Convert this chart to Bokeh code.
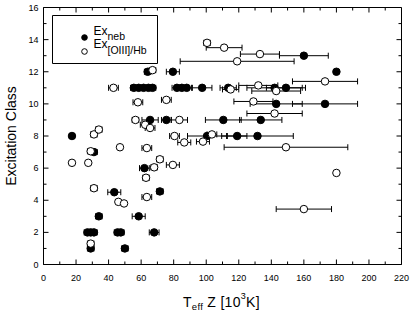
from bokeh.plotting import figure
from bokeh.models import (Range1d, SingleIntervalTicker, Whisker, TeeHead, BoxAnnotation,
                          ColumnDataSource, Label, Legend, LegendItem, Div)
from bokeh.layouts import column
from bokeh.embed import file_html
from bokeh.resources import INLINE

# ---- data ----
neb_x = [17.5, 31, 62, 43.5, 71.5, 34, 58.5, 27, 29, 31, 45.5, 47.5, 68, 29, 50,
         64, 79.5, 160, 180, 55.5, 58.5, 61.5, 64.5, 67, 82, 85, 88, 97.5, 113.5, 142,
         149, 143, 173, 65.5, 75.5, 110.5, 133.5, 100.5, 119, 131.5]
neb_y = [8, 7, 6, 4.5, 4.55, 3, 3, 2, 2, 2, 2, 2, 2, 1, 1,
         12, 12, 13, 12, 11, 11, 11, 11, 11, 11, 11, 11, 11, 11, 11,
         11, 10, 10, 9, 9, 9, 9, 8, 8, 8]
neb_err = [1.5, 2, 3, 4, 2, 2, 4, 2, 2, 2, 2, 2, 3, 2, 2,
           2, 4, 15, 0, 2, 2, 2, 2, 2, 3, 3, 3, 6, 5, 17,
           12, 16, 20, 5, 3, 11, 13, 12, 6, 22]

oiii_x = [43, 58, 75.5, 67, 100.5, 111, 133, 119, 115, 132, 143, 173, 129, 142, 56.5,
          62.5, 65.5, 83.5, 80.5, 103.5, 86.5, 98, 149, 31, 34, 29, 47, 63.5, 17.5, 27.5,
          71.5, 68, 79.5, 63, 180, 31, 63.5, 46, 49.5, 29, 160]
oiii_y = [11, 10.1, 10.25, 12.1, 13.8, 13.5, 13.1, 12.65, 10.9, 11.15, 10.8, 11.4, 10.15, 9.4, 9.0,
          8.7, 8.5, 9.0, 8.0, 8.1, 7.6, 7.65, 7.3, 8.1, 8.4, 7.05, 7.3, 7.25, 6.33, 6.33,
          6.55, 6.05, 6.2, 5.4, 5.7, 4.75, 4.2, 3.9, 3.8, 1.3, 3.45]
oiii_err = [3, 3, 3, 2, 2, 11, 12, 35, 5, 12, 15, 20, 12, 17, 2,
            3, 3, 5, 3, 3, 4, 4, 38, 2, 2, 2, 1, 3, 0, 1,
            2, 2, 4, 2, 0, 2, 3, 1, 1, 2, 17]

x_start, x_end, x_step = 0, 220, 20
y_start, y_end, y_step = 0, 16, 2
x_major = list(range(0, 221, 20))
x_minor = list(range(10, 220, 20))
y_major = list(range(0, 17, 2))
y_minor = list(range(1, 16, 2))

FONT = "Liberation Sans"

# frame geometry (page pixels), used to place the legend box/texts and size the ticks
FL, FR, FT, FB = 43, 401, 7, 264
W = 410
H = 287
XPX = (FR - FL) / (x_end - x_start)   # pixels per x unit
YPX = (FB - FT) / (y_end - y_start)   # pixels per y unit
def dx(px):
    return x_start + (px - FL) / XPX
def dy(py):
    return y_start + (FB - py) / YPX

p = figure(width=W, height=H, x_range=Range1d(x_start, x_end), y_range=Range1d(y_start, y_end),
           output_backend="svg", toolbar_location=None,
           min_border_left=FL, min_border_right=W - FR, min_border_top=FT,
           min_border_bottom=H - FB)
p.xgrid.visible = False
p.ygrid.visible = False
p.outline_line_color = "black"
p.outline_line_width = 1
p.background_fill_color = "white"
p.border_fill_color = "white"

for ax in (p.xaxis[0], p.yaxis[0]):
    ax.axis_line_color = "black"
    ax.major_tick_in = 0
    ax.major_tick_out = 0
    ax.minor_tick_in = 0
    ax.minor_tick_out = 0
    ax.major_label_text_font = FONT
    ax.major_label_text_color = "black"
    ax.major_label_text_font_size = "9px"
p.xaxis.ticker = SingleIntervalTicker(interval=x_step, num_minor_ticks=2)
p.yaxis.ticker = SingleIntervalTicker(interval=y_step, num_minor_ticks=2)
p.xaxis.major_label_standoff = 10
p.yaxis.major_label_standoff = 5
p.yaxis.axis_label = "Excitation Class"
p.yaxis.axis_label_text_font = FONT
p.yaxis.axis_label_text_font_size = "14px"
p.yaxis.axis_label_text_font_style = "normal"
p.yaxis.axis_label_text_color = "black"
p.yaxis.axis_label_standoff = 6

# inward tick marks on all four sides
MAJ, MIN = 5, 3   # tick lengths in pixels
def xticks(vals, length):
    n = len(vals)
    p.segment(vals, [y_start] * n, vals, [y_start + length / YPX] * n, line_color="black", line_width=1)
    p.segment(vals, [y_end] * n, vals, [y_end - length / YPX] * n, line_color="black", line_width=1)
def yticks(vals, length):
    n = len(vals)
    p.segment([x_start] * n, vals, [x_start + length / XPX] * n, vals, line_color="black", line_width=1)
    p.segment([x_end] * n, vals, [x_end - length / XPX] * n, vals, line_color="black", line_width=1)
xticks(x_major, MAJ); xticks(x_minor, MIN)
yticks(y_major, MAJ); yticks(y_minor, MIN)

# error bars
def err_source(xs, ys, es):
    d = dict(y=[], lo=[], hi=[])
    for x, y, e in zip(xs, ys, es):
        if e > 0:
            d["y"].append(y); d["lo"].append(x - e); d["hi"].append(x + e)
    return ColumnDataSource(d)

for xs, ys, es in ((neb_x, neb_y, neb_err), (oiii_x, oiii_y, oiii_err)):
    w = Whisker(source=err_source(xs, ys, es), base="y", lower="lo", upper="hi", dimension="width",
                line_color="black", line_width=1,
                lower_head=TeeHead(size=6, line_color="black", line_width=1),
                upper_head=TeeHead(size=6, line_color="black", line_width=1),
                level="underlay")
    p.add_layout(w)

r_neb = p.scatter(neb_x, neb_y, marker="circle", size=7.5, fill_color="black", line_color="black")
r_oiii = p.scatter(oiii_x, oiii_y, marker="circle", size=7.5, fill_color="white",
                   line_color="black", line_width=1)

# legend: frame box + keys + texts with subscripts
p.add_layout(BoxAnnotation(left=dx(52), right=dx(157), top=dy(15), bottom=dy(63),
                           fill_alpha=0, line_color="black", line_width=1, line_alpha=1))
legend = Legend(items=[LegendItem(label=" ", renderers=[r_neb]), LegendItem(label=" ", renderers=[r_oiii])],
                location=(18, 197), padding=9, spacing=0, glyph_width=28, glyph_height=14,
                label_height=14, label_width=55, label_standoff=4, margin=0,
                border_line_color="black", border_line_alpha=0.0,
                background_fill_alpha=0.0, label_text_font_size="8px")
p.add_layout(legend)

def lab(text, px, py, size, baseline="middle"):
    p.add_layout(Label(x=dx(px), y=dy(py), text=text, text_font=FONT, text_font_size=size,
                       text_color="black", text_baseline=baseline, text_align="left"))

lab("Ex", 93, 30, "12px")
lab("neb", 107, 35, "10.5px")
lab("Ex", 93, 43, "12px")
lab("[OIII]/Hb", 107, 49, "10.5px")

# x-axis title with subscript and superscript
xlabel = Div(text=(
    '<div style="padding:7px 0 0 183px;font-family:\'Liberation Sans\';font-size:14px;'
    'line-height:16px;letter-spacing:0.3px;color:#000;white-space:nowrap">'
    'T<span style="font-size:9.5px;vertical-align:-3px;line-height:0">eff</span> Z [10'
    '<span style="font-size:9px;vertical-align:8px;line-height:0">3</span>K]</div>'),
    width=W, height=28, margin=(0, 0, 0, 0))

layout = column(p, xlabel, spacing=0)
open("out.html", "w").write(file_html(layout, INLINE))
